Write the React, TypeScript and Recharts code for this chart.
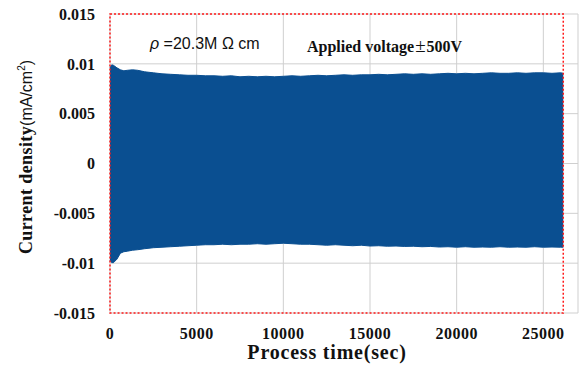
import { ComposedChart, Area, XAxis, YAxis, CartesianGrid, ReferenceArea } from "recharts";

// sample times (sec) of the envelope of the oscillating current
const TIMES = [
  0, 100, 200, 400, 600, 800, 1000, 1300, 1600, 2000, 2500, 3000, 3500, 4000,
  4500, 5000, 5500, 6000, 6500, 7000, 7500, 8000, 8500, 9000, 9500, 10000,
  10500, 11000, 11500, 12000, 12500, 13000, 13500, 14000, 14500, 15000, 15500,
  16000, 16500, 17000, 17500, 18000, 18500, 19000, 19500, 20000, 20500, 21000,
  21500, 22000, 22500, 23000, 23500, 24000, 24500, 25000, 25500, 26000, 26150,
];

// upper envelope (mA/cm2)
const UPPER = [
  0.0096, 0.0099, 0.00985, 0.0096, 0.0094, 0.0093, 0.00935, 0.0094, 0.00935,
  0.0092, 0.0091, 0.009, 0.00895, 0.0089, 0.00885, 0.00885, 0.0088, 0.0088,
  0.00875, 0.0088, 0.0087, 0.00875, 0.0087, 0.00875, 0.0087, 0.00875, 0.0088,
  0.00875, 0.0088, 0.00885, 0.0088, 0.00885, 0.0089, 0.00885, 0.0089, 0.0089,
  0.00895, 0.0089, 0.00895, 0.009, 0.00895, 0.009, 0.00895, 0.009, 0.00905,
  0.009, 0.00905, 0.009, 0.00905, 0.0091, 0.00905, 0.00905, 0.0091, 0.00905,
  0.0091, 0.0091, 0.00905, 0.0091, 0.00905,
];

// lower envelope (mA/cm2)
const LOWER = [
  -0.0097, -0.00995, -0.00995, -0.0096, -0.009, -0.00885, -0.0088, -0.0087,
  -0.00865, -0.00855, -0.00845, -0.0084, -0.00835, -0.0083, -0.00825, -0.0082,
  -0.00815, -0.00815, -0.0081, -0.00815, -0.0081, -0.0081, -0.00805, -0.0081,
  -0.00805, -0.008, -0.00805, -0.0081, -0.0081, -0.00815, -0.0082, -0.00815,
  -0.0082, -0.00825, -0.0082, -0.00828, -0.00825, -0.0083, -0.00828, -0.00832,
  -0.0083, -0.00835, -0.00832, -0.00838, -0.00835, -0.0084, -0.00835, -0.0084,
  -0.00838, -0.0084, -0.00835, -0.0084, -0.00838, -0.0084, -0.00835, -0.0084,
  -0.00838, -0.0084, -0.0084,
];

const X_TICKS = [0, 5000, 10000, 15000, 20000, 25000];
const Y_TICKS = [-0.015, -0.01, -0.005, 0, 0.005, 0.01, 0.015];

const BLUE = "#0a4f91";
const SERIF = "'Liberation Serif', 'DejaVu Serif', serif";
const SANS = "'Liberation Sans', Arial, sans-serif";

export default function App() {
  const data = TIMES.map((t, i) => ({
    t,
    band: [LOWER[i], UPPER[i]],
  }));

  return (
    <div style={{ position: "absolute", left: 0, top: 0, width: 587, height: 367, background: "#fff" }}>
      <ComposedChart
        width={587}
        height={367}
        data={data}
        margin={{ top: 14, right: 9, bottom: 0, left: 0 }}
      >
        <CartesianGrid stroke="#cfcfcf" strokeWidth={1} />
        <XAxis
          dataKey="t"
          type="number"
          domain={[0, 27000]}
          ticks={X_TICKS}
          axisLine={false}
          tickLine={false}
          tickMargin={9}
          height={54}
          tick={{ fill: "#111", fontFamily: SERIF, fontWeight: 700, fontSize: 16, letterSpacing: 0.5 }}
        />
        <YAxis
          type="number"
          domain={[-0.015, 0.015]}
          ticks={Y_TICKS}
          axisLine={false}
          tickLine={false}
          tickMargin={9}
          width={110}
          tick={{ fill: "#111", fontFamily: SERIF, fontWeight: 700, fontSize: 16 }}
        />
        <Area
          dataKey="band"
          type="linear"
          stroke={BLUE}
          strokeWidth={1}
          fill={BLUE}
          fillOpacity={1}
          isAnimationActive={false}
          dot={false}
          activeDot={false}
        />
        <ReferenceArea
          x1={0}
          x2={26150}
          y1={-0.015}
          y2={0.015}
          stroke="#ff1a1a"
          strokeWidth={1.5}
          strokeDasharray="2 2"
          fill="none"
          fillOpacity={0}
          ifOverflow="extendDomain"
        />
      </ComposedChart>

      <div
        style={{
          position: "absolute",
          left: 150,
          top: 35,
          fontFamily: SANS,
          fontSize: 16,
          color: "#111",
          whiteSpace: "nowrap",
        }}
      >
        <i>ρ</i> =20.3M Ω cm
      </div>
      <div
        style={{
          position: "absolute",
          left: 307,
          top: 35,
          fontFamily: SERIF,
          fontWeight: 700,
          fontSize: 16,
          color: "#111",
          whiteSpace: "nowrap",
        }}
      >
        Applied voltage
        <span style={{ fontWeight: 400, fontSize: 19, margin: "0 1px" }}>±</span>
        500V
      </div>

      <div
        style={{
          position: "absolute",
          left: 0,
          width: 654,
          top: 341,
          textAlign: "center",
          fontFamily: SERIF,
          fontWeight: 700,
          fontSize: 20,
          letterSpacing: 0.8,
          color: "#111",
          whiteSpace: "nowrap",
        }}
      >
        Process time(sec)
      </div>
      <div
        style={{
          position: "absolute",
          left: 26,
          top: 157,
          transform: "translate(-50%, -50%) rotate(-90deg)",
          whiteSpace: "nowrap",
          color: "#111",
        }}
      >
        <span style={{ fontFamily: SERIF, fontWeight: 700, fontSize: 18, letterSpacing: 0.4 }}>Current density</span>
        <span style={{ fontFamily: SANS, fontSize: 16 }}>
          (mA/cm<sup style={{ fontSize: 10 }}>2</sup>)
        </span>
      </div>
    </div>
  );
}
